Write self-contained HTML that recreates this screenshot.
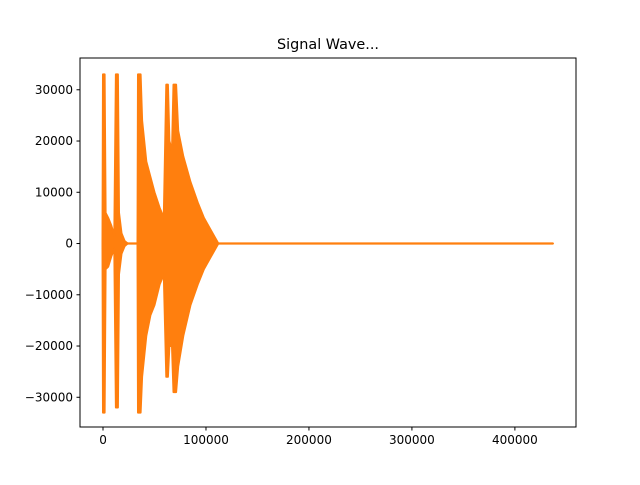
<!DOCTYPE html>
<html><head><meta charset="utf-8"><style>
body{margin:0;background:#fff}
text{font-family:"DejaVu Sans","Liberation Sans",sans-serif;font-size:12px;fill:#000}
</style></head><body>
<svg id="chart" width="640" height="480" viewBox="0 0 640 480" xmlns="http://www.w3.org/2000/svg">
<rect x="0" y="0" width="640" height="480" fill="#fff"/>
<text x="328" y="49" text-anchor="middle" style="font-size:14.4px">Signal Wave...</text>
<g id="plot"></g>
<rect x="80" y="58" width="496" height="369" fill="none" stroke="#000" stroke-width="1"/>
<g id="axes"></g>
</svg>
<script>
const envX=[-500,0,1500,2500,5000,8000,11000,12500,14500,15500,18000,21000,24000,33500,34000,36500,38000,42000,46000,50000,55000,59000,61500,63000,64500,67000,68500,71000,73000,78000,85000,92000,98000,105000,112000,437000];
const envMax=[0,33000,33000,6000,5000,3500,1500,33000,33000,6000,2000,500,0,0,33000,33000,24000,16000,13000,10000,7000,5000,31000,31000,20000,18000,31000,31000,22000,17000,12000,8000,5000,2500,0,0];
const envMin=[0,-33000,-33000,-5000,-4500,-2500,-1000,-32000,-32000,-6000,-2000,-500,0,0,-33000,-33000,-26000,-18000,-14000,-12000,-8000,-6000,-26000,-26000,-20000,-20000,-29000,-29000,-24000,-18000,-12000,-8000,-5000,-2500,0,0];
const xTicks=[0,100000,200000,300000,400000];
const yTicks=[-30000,-20000,-10000,0,10000,20000,30000];
const X0=80,X1=576,Y0=58,Y1=427;
const xmin=-22350,xmax=459350,ymin=-35800,ymax=36200;
const sx=v=>X0+(v-xmin)/(xmax-xmin)*(X1-X0);
const sy=v=>Y1-(v-ymin)/(ymax-ymin)*(Y1-Y0);
const NS='http://www.w3.org/2000/svg';
const plot=document.getElementById('plot'),axes=document.getElementById('axes');
let pts=[];
for(let i=0;i<envX.length;i++)pts.push(sx(envX[i]).toFixed(1)+','+sy(envMax[i]).toFixed(1));
for(let i=envX.length-1;i>=0;i--)pts.push(sx(envX[i]).toFixed(1)+','+sy(envMin[i]).toFixed(1));
const pg=document.createElementNS(NS,'polygon');


pg.setAttribute('points',pts.join(' '));
pg.setAttribute('fill','#ff7f0e');pg.setAttribute('stroke','#ff7f0e');pg.setAttribute('stroke-width','2');pg.setAttribute('stroke-linejoin','round');
plot.appendChild(pg);
const zl=document.createElementNS(NS,'line');


zl.setAttribute('x1',sx(envX[0]));zl.setAttribute('x2',sx(envX[envX.length-1]));zl.setAttribute('y1',sy(0));zl.setAttribute('y2',sy(0));
zl.setAttribute('stroke','#ff7f0e');zl.setAttribute('stroke-width','2.2');
plot.appendChild(zl);
xTicks.forEach(t=>{
 const x=sx(t);
 const l=document.createElementNS(NS,'line');
 
 
 l.setAttribute('x1',x);l.setAttribute('x2',x);l.setAttribute('y1',Y1);l.setAttribute('y2',Y1+3.5);l.setAttribute('stroke','#000');
 axes.appendChild(l);
 const tx=document.createElementNS(NS,'text');
 
 
 tx.setAttribute('x',x);tx.setAttribute('y',Y1+17);tx.setAttribute('text-anchor','middle');tx.textContent=t;
 axes.appendChild(tx);
});
yTicks.forEach(t=>{
 const y=sy(t);
 const l=document.createElementNS(NS,'line');
 
 
 l.setAttribute('x1',X0-3.5);l.setAttribute('x2',X0);l.setAttribute('y1',y);l.setAttribute('y2',y);l.setAttribute('stroke','#000');
 axes.appendChild(l);
 const tx=document.createElementNS(NS,'text');
 
 
 tx.setAttribute('x',X0-7);tx.setAttribute('y',y+4);tx.setAttribute('text-anchor','end');tx.textContent=(t<0?'\u2212'+(-t):t);
 axes.appendChild(tx);
});
</script>
</body></html>
